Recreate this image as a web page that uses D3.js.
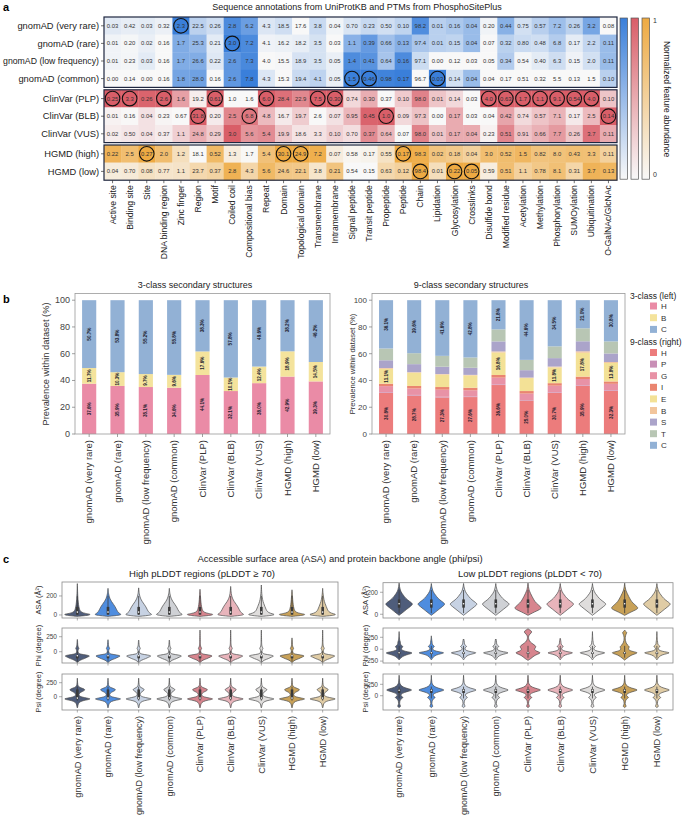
<!DOCTYPE html>
<html><head><meta charset="utf-8">
<script src="https://cdn.jsdelivr.net/npm/d3@7"></script>
<style>body{margin:0;background:#fff;}svg{display:block;}</style>
</head><body>
<script>
// ---------------- DATA ----------------
const datasets = ["gnomAD (very rare)","gnomAD (rare)","gnomAD (low frequency)","gnomAD (common)","ClinVar (PLP)","ClinVar (BLB)","ClinVar (VUS)","HGMD (high)","HGMD (low)"];
const datasetGroup = [0,0,0,0,1,1,1,2,2];
const features = ["Active site","Binding site","Site","DNA binding region","Zinc finger","Region","Motif","Coiled coil","Compositional bias","Repeat","Domain","Topological domain","Transmembrane","Intramembrane","Signal peptide","Transit peptide","Propeptide","Peptide","Chain","Lipidation","Glycosylation","Crosslinks","Disulfide bond","Modified residue","Acetylation","Methylation","Phosphorylation","SUMOylation","Ubiquitination","O-GalNAc/GlcNAc"];
const abundance = [
 [0.03,0.42,0.03,0.32,2.3,22.5,0.26,2.8,6.2,4.3,18.5,17.6,3.8,0.04,0.70,0.23,0.50,0.10,98.2,0.01,0.16,0.04,0.20,0.44,0.75,0.57,7.2,0.26,3.2,0.08],
 [0.01,0.20,0.02,0.16,1.7,25.3,0.21,3.0,7.2,4.1,16.2,18.2,3.5,0.03,1.1,0.39,0.66,0.13,97.4,0.01,0.15,0.04,0.07,0.32,0.80,0.48,6.8,0.17,2.2,0.11],
 [0.01,0.23,0.03,0.16,1.7,26.6,0.22,2.6,7.3,4.0,15.5,18.9,3.5,0.05,1.4,0.41,0.64,0.16,97.1,0.00,0.12,0.03,0.05,0.34,0.54,0.40,6.3,0.15,2.0,0.11],
 [0.00,0.14,0.00,0.16,1.8,28.0,0.16,2.6,7.8,4.3,15.3,19.4,4.1,0.05,1.5,0.46,0.98,0.17,96.7,0.03,0.14,0.04,0.04,0.17,0.51,0.32,5.5,0.13,1.5,0.10],
 [0.25,3.3,0.26,2.6,1.6,19.2,0.61,1.0,1.6,6.0,28.4,22.9,7.5,0.30,0.74,0.30,0.37,0.10,98.0,0.01,0.14,0.03,4.0,0.63,1.7,1.06,9.1,0.54,4.0,0.10],
 [0.01,0.16,0.04,0.23,0.67,31.8,0.20,2.5,6.8,4.8,16.7,19.7,2.6,0.07,0.95,0.45,1.0,0.09,97.3,0.00,0.17,0.03,0.04,0.42,0.74,0.57,7.1,0.17,2.5,0.14],
 [0.02,0.50,0.04,0.37,1.1,24.8,0.29,3.0,5.6,5.4,19.9,18.6,3.3,0.10,0.70,0.37,0.64,0.07,98.0,0.01,0.17,0.04,0.23,0.51,0.91,0.66,7.7,0.26,3.7,0.11],
 [0.22,2.5,0.27,2.0,1.2,18.1,0.52,1.3,1.7,5.4,30.1,24.9,7.2,0.07,0.58,0.17,0.55,0.17,98.3,0.02,0.18,0.04,3.0,0.52,1.5,0.82,8.0,0.43,3.3,0.11],
 [0.04,0.70,0.08,0.77,1.1,23.7,0.37,2.8,4.3,5.6,24.6,22.1,3.8,0.21,0.54,0.15,0.63,0.12,98.4,0.01,0.22,0.05,0.59,0.51,1.1,0.78,8.1,0.31,3.7,0.13]
];
// circled cells [row, column]
const circled = [[0,4],[1,7],[3,14],[3,15],[3,19],
 [4,0],[4,1],[4,3],[4,6],[4,9],[4,12],[4,13],[4,22],[4,23],[4,24],[4,25],[4,26],[4,27],[4,28],
 [5,5],[5,8],[5,16],[5,29],[7,2],[7,10],[7,11],[7,17],[8,18],[8,20],[8,21]];

// panel b
const ss3Keys = ["H","B","C"];
const ss3H = [37.6,35.9,35.1,34.6,44.1,32.1,38.0,42.9,39.3];
const ss3B = [11.7,10.3,9.7,9.6,17.6,10.1,12.4,18.9,14.5];
const ss3C = [50.7,53.8,55.2,55.8,38.3,57.8,49.6,38.2,46.2];
const ss9Keys = ["H","P","G","I","E","B","S","T","C"];
const ss9H = [30.8,28.7,27.3,27.6,36.6,25.0,30.7,35.9,32.3];
const ss9P = [0.5,0.5,0.5,0.5,0.5,0.4,0.5,0.5,0.5];
const ss9G = [4.5,4.8,5.3,4.6,5.0,4.8,4.9,4.7,4.7];
const ss9I = [1.8,1.9,2.0,1.9,2.0,1.9,1.9,1.8,1.8];
const ss9E = [11.1,9.9,9.3,9.2,16.8,9.7,11.8,17.8,13.8];
const ss9B = [0.6,0.4,0.4,0.4,0.8,0.4,0.6,1.1,0.7];
const ss9S = [5.8,6.0,5.5,5.3,7.5,5.5,6.3,7.5,6.4];
const ss9T = [8.8,8.2,8.1,7.7,9.0,7.7,8.8,9.7,9.0];
const ss9C = [36.1,39.6,41.6,42.8,21.8,44.6,34.5,21.0,30.8];
const ss3Colors = ["#ea8ba6","#f4e39c","#92b1d5"];
const ss9Colors = ["#ec7c7c","#c98fb6","#e892a6","#ea8570","#f3e196","#f2c59c","#aba4ca","#b8c6b4","#92b1d5"];

// panel c violin profiles: [value, relative half width]
const violinColors = ["#4f5d7b","#4f8ddf","#c7d2e3","#cfd1d5","#d7858e","#e8b4bb","#dfdddc","#c8a158","#e0cca5"];
const asaHighProfiles = {
 spike: [[-15,0],[-8,0.55],[0,0.95],[8,1.0],[16,0.6],[28,0.32],[45,0.2],[70,0.14],[110,0.09],[160,0.05],[220,0.025]],
 mid:   [[-15,0],[-8,0.55],[0,0.95],[8,1.0],[18,0.65],[35,0.45],[60,0.35],[90,0.27],[120,0.18],[160,0.09],[220,0.03]],
 bell:  [[-15,0],[-8,0.55],[0,0.95],[8,1.0],[18,0.85],[35,0.72],[60,0.64],[85,0.55],[110,0.43],[140,0.27],[175,0.13],[220,0.04]]
};
const asaHighShape = ["spike","bell","bell","bell","spike","bell","mid","spike","mid"];
const asaHighTop = [330,280,285,280,270,300,315,265,280];
const phiHighProfiles = {
 std: [[-185,0],[-170,0.05],[-140,0.2],[-115,0.55],[-90,0.75],[-70,1.0],[-55,0.7],[-40,0.2],[-20,0.06],[20,0.04],[45,0.1],[60,0.14],[75,0.06],[120,0.025],[180,0.02]]
};
const phiHighShape = ["std","std","std","std","std","std","std","std","std"];
const phiHighTop = [205,200,195,195,360,360,360,230,360];
const psiHighProfiles = {
 std: [[-200,0],[-185,0.03],[-150,0.04],[-100,0.12],[-70,0.4],[-50,0.9],[-38,1.0],[-25,0.75],[-5,0.3],[20,0.12],[50,0.1],[80,0.18],[105,0.35],[125,0.45],[145,0.35],[165,0.15],[190,0.05],[240,0.02]],
 big: [[-200,0],[-185,0.03],[-150,0.04],[-100,0.12],[-70,0.4],[-50,0.9],[-38,1.0],[-25,0.75],[-5,0.3],[20,0.12],[50,0.12],[80,0.25],[105,0.5],[125,0.6],[145,0.45],[165,0.18],[190,0.05],[240,0.02]]
};
const psiHighShape = ["big","big","std","std","big","std","std","big","std"];
const psiHighTop = [330,330,330,330,330,330,330,330,330];
const asaLowProfiles = {
 sym:  [[-10,0],[0,0.1],[20,0.3],[45,0.55],[70,0.8],[90,1.0],[105,0.9],[130,0.6],[160,0.38],[190,0.2],[220,0.08],[250,0.03]],
 skew: [[-10,0],[0,0.15],[20,0.45],[40,0.8],[55,1.0],[75,0.85],[100,0.6],[130,0.42],[160,0.3],[190,0.18],[220,0.07],[250,0.03]]
};
const asaLowShape = ["sym","sym","sym","sym","skew","sym","sym","skew","sym"];
const asaLowTop = [285,280,280,280,285,280,280,285,280];
const phiLowProfiles = {
 vr:   [[-225,0],[-200,0.08],[-160,0.2],[-120,0.5],[-95,0.85],[-75,1.0],[-55,0.6],[-30,0.25],[0,0.15],[30,0.2],[55,0.3],[75,0.18],[110,0.08],[150,0.1],[170,0.06],[220,0.02]],
 std:  [[-225,0],[-200,0.06],[-160,0.15],[-120,0.35],[-95,0.7],[-75,1.0],[-55,0.55],[-30,0.2],[0,0.08],[35,0.12],[55,0.25],[75,0.15],[110,0.05],[150,0.06],[170,0.04],[220,0.02]],
 rich: [[-235,0],[-200,0.2],[-160,0.35],[-120,0.55],[-90,0.85],[-70,0.9],[-40,0.6],[-10,0.45],[20,0.5],[55,0.6],[90,0.45],[130,0.25],[170,0.1],[220,0.04],[280,0.03],[320,0.15],[360,0.3],[395,0.2],[420,0.02]],
 hh:   [[-230,0],[-200,0.12],[-160,0.3],[-120,0.5],[-90,0.85],[-70,0.95],[-45,0.5],[-10,0.25],[25,0.3],[55,0.35],[85,0.2],[130,0.1],[180,0.05],[250,0.03],[320,0.1],[350,0.18],[380,0.05]]
};
const phiLowShape = ["vr","std","std","std","rich","std","std","hh","std"];
const phiLowTop = [370,280,200,200,430,230,370,400,370];
const psiLowProfiles = {
 std: [[-260,0],[-245,0.08],[-225,0.12],[-205,0.06],[-170,0.03],[-120,0.05],[-70,0.12],[-45,0.3],[-25,0.25],[0,0.12],[30,0.12],[70,0.35],[100,0.7],[125,1.0],[150,0.7],[185,0.3],[230,0.1],[290,0.03],[370,0.015]]
};
const psiLowShape = ["std","std","std","std","std","std","std","std","std"];
const psiLowTop = [450,450,450,450,450,450,450,450,450];
// inner box: [low whisker, q1, median, q3, high whisker]
const asaHighBox = [0,4,30,85,200];
const phiHighBox = [-170,-110,-68,-60,10];
const psiHighBox = [-70,-45,-25,130,180];
const asaLowBox = [10,60,95,135,220];
const phiLowBox = [-180,-100,-75,-60,70];
const psiLowBox = [-60,60,120,145,200];

// ---------------- DRAW ----------------
const FONT = "'Liberation Sans', Arial, Helvetica, sans-serif";
const svg = d3.select("body").append("svg").attr("width",685).attr("height",817)
  .style("font-family",FONT);
const defs = svg.append("defs");
function fitText(sel, maxW){
  const n = sel.node(); const w = n.getComputedTextLength();
  if(w>maxW){ const fs = parseFloat(sel.attr("font-size")); sel.attr("font-size", (fs*maxW/w).toFixed(2)); }
}

// ===== Panel a =====
svg.append("text").attr("x",3).attr("y",11).text("a").attr("font-weight","bold").attr("font-size",11);
svg.append("text").attr("x",357).attr("y",10).attr("text-anchor","middle").attr("font-size",9).attr("fill","#222")
  .text("Sequence annotations from UniProtKB and PTMs from PhosphoSitePlus");

const hmLeft=104, hmRight=617, hmTop=17, rowH=17.6, grpGap=2.4;
const xH = d3.scaleBand().domain(features).range([hmLeft,hmRight]);
const yBand = d3.scaleBand().domain(d3.range(9)).range([hmTop,hmTop+9*rowH]);
const yH = i => yBand(i) + datasetGroup[i]*grpGap;
const groupColors = ["#3a7fda","#d95e68","#eeaa42"];
const lowColor = "#f8f8f8";
const colMin = features.map((f,j)=>d3.min(abundance,r=>r[j]));
const colMax = features.map((f,j)=>d3.max(abundance,r=>r[j]));
const fmt = v => v<1 ? v.toFixed(2) : v.toFixed(1);

const gH = svg.append("g");
abundance.forEach((row,i)=>{
  const interp = d3.interpolateRgb(lowColor, groupColors[datasetGroup[i]]);
  row.forEach((v,j)=>{
    const t = colMax[j]>colMin[j] ? (v-colMin[j])/(colMax[j]-colMin[j]) : 0;
    gH.append("rect").attr("x",xH(features[j])).attr("y",yH(i))
      .attr("width",xH.bandwidth()+0.3).attr("height",rowH+0.3).attr("fill",interp(t));
  });
});
abundance.forEach((row,i)=>{
  row.forEach((v,j)=>{
    gH.append("text").attr("x",xH(features[j])+xH.bandwidth()/2).attr("y",yH(i)+rowH/2+2)
      .attr("text-anchor","middle").attr("font-size",5.9).attr("fill","#333").text(fmt(v));
  });
});
circled.forEach(([i,j])=>{
  gH.append("circle").attr("cx",xH(features[j])+xH.bandwidth()/2).attr("cy",yH(i)+rowH/2)
    .attr("r",7.3).attr("fill","none").attr("stroke","#111").attr("stroke-width",1.1);
});
[0,1,2].forEach(g=>{
  const rows = d3.range(9).filter(i=>datasetGroup[i]===g);
  const y0 = yH(rows[0]), y1 = yH(rows[rows.length-1])+rowH;
  gH.append("rect").attr("x",hmLeft).attr("y",y0).attr("width",hmRight-hmLeft).attr("height",y1-y0)
    .attr("fill","none").attr("stroke","#1e2740").attr("stroke-width",1.2);
});
datasets.forEach((d,i)=>{
  const cy = yH(i)+rowH/2;
  gH.append("line").attr("x1",hmLeft-3).attr("x2",hmLeft).attr("y1",cy).attr("y2",cy).attr("stroke","#333").attr("stroke-width",0.7);
  const t = gH.append("text").attr("x",hmLeft-5).attr("y",cy+3.2).attr("text-anchor","end").attr("font-size",9.3).attr("fill","#222").text(d);
  fitText(t, hmLeft-8);
});
const hmBottom = yH(8)+rowH;
features.forEach(f=>{
  const cx = xH(f)+xH.bandwidth()/2;
  gH.append("line").attr("x1",cx).attr("x2",cx).attr("y1",hmBottom).attr("y2",hmBottom+3).attr("stroke","#333").attr("stroke-width",0.7);
  gH.append("text").attr("transform",`translate(${cx+3},${hmBottom+5}) rotate(-90)`)
    .attr("text-anchor","end").attr("font-size",8.6).attr("fill","#222").text(f);
});
// colour bars legend
const lgX = [620,631,642];
groupColors.forEach((c,k)=>{
  const id="lg"+k;
  const grad = defs.append("linearGradient").attr("id",id).attr("x1",0).attr("x2",0).attr("y1",0).attr("y2",1);
  grad.append("stop").attr("offset","0%").attr("stop-color",c);
  grad.append("stop").attr("offset","100%").attr("stop-color",lowColor);
  svg.append("rect").attr("x",lgX[k]).attr("y",hmTop+1).attr("width",7.5).attr("height",hmBottom-hmTop-2)
    .attr("fill",`url(#${id})`).attr("stroke","#555").attr("stroke-width",0.7);
});
svg.append("text").attr("x",653).attr("y",23).attr("font-size",7).attr("fill","#333").text("1");
svg.append("text").attr("x",653).attr("y",177).attr("font-size",7).attr("fill","#333").text("0");
svg.append("text").attr("transform","translate(664,99) rotate(90)").attr("text-anchor","middle")
  .attr("font-size",8.5).attr("fill","#222").text("Normalized feature abundance");

// ===== Panel b =====
svg.append("text").attr("x",3).attr("y",303).text("b").attr("font-weight","bold").attr("font-size",11);
function barPanel(x0,x1,keys,series,colors,title,titleX,labelFont,labelMin){
  const yTop=293.5, yBot=434;
  const g = svg.append("g");
  const xB = d3.scaleBand().domain(datasets).range([x0,x1]).paddingInner(0.5).paddingOuter(0.25);
  const yB = d3.scaleLinear().domain([0,105]).range([yBot,yTop]);
  const rows = datasets.map((d,i)=>{const o={name:d}; keys.forEach((k,m)=>o[k]=series[m][i]); return o;});
  const stack = d3.stack().keys(keys)(rows);
  stack.forEach((layer,m)=>{
    layer.forEach(seg=>{
      g.append("rect").attr("x",xB(seg.data.name)).attr("y",yB(seg[1])).attr("width",xB.bandwidth())
        .attr("height",Math.max(0,yB(seg[0])-yB(seg[1]))).attr("fill",colors[m]);
    });
  });
  stack.forEach((layer,m)=>{
    layer.forEach(seg=>{
      const v = seg[1]-seg[0];
      if(v>=labelMin){
        const cx = xB(seg.data.name)+xB.bandwidth()/2, cy=(yB(seg[0])+yB(seg[1]))/2;
        g.append("text").attr("transform",`translate(${cx+1.6},${cy}) rotate(-90)`).attr("text-anchor","middle")
          .attr("font-size",4.6).attr("font-weight","bold").attr("fill","#1c1c2e").text(v.toFixed(1)+"%");
      }
    });
  });
  g.append("rect").attr("x",x0).attr("y",yTop).attr("width",x1-x0).attr("height",yBot-yTop)
    .attr("fill","none").attr("stroke","#999").attr("stroke-width",0.8);
  [0,20,40,60,80,100].forEach(t=>{
    g.append("line").attr("x1",x0-3).attr("x2",x0).attr("y1",yB(t)).attr("y2",yB(t)).attr("stroke","#777").attr("stroke-width",0.7);
    g.append("text").attr("x",x0-5).attr("y",yB(t)+3).attr("text-anchor","end").attr("font-size",labelFont).attr("fill","#444").text(t);
  });
  datasets.forEach(d=>{
    const cx = xB(d)+xB.bandwidth()/2;
    g.append("line").attr("x1",cx).attr("x2",cx).attr("y1",yBot).attr("y2",yBot+3).attr("stroke","#777").attr("stroke-width",0.7);
    g.append("text").attr("transform",`translate(${cx+3.3},${yBot+6}) rotate(-90)`).attr("text-anchor","end")
      .attr("font-size",9.5).attr("fill","#333").text(d);
  });
  g.append("text").attr("x",titleX).attr("y",288).attr("text-anchor","middle").attr("font-size",9).attr("fill","#222").text(title);
  return g;
}
barPanel(75,330,ss3Keys,[ss3H,ss3B,ss3C],ss3Colors,"3-class secondary structures",195,9,0);
barPanel(372,625,ss9Keys,[ss9H,ss9P,ss9G,ss9I,ss9E,ss9B,ss9S,ss9T,ss9C],ss9Colors,"9-class secondary structures",471,8,10.5);
svg.append("text").attr("transform","translate(49,364) rotate(-90)").attr("text-anchor","middle").attr("font-size",9.3).attr("fill","#333").text("Prevalence within dataset (%)");
svg.append("text").attr("transform","translate(355,364) rotate(-90)").attr("text-anchor","middle").attr("font-size",7.6).attr("fill","#333").text("Prevalence within dataset (%)");
// legend b
svg.append("text").attr("x",630).attr("y",299).attr("font-size",8.5).attr("fill","#222").text("3-class (left)");
ss3Keys.forEach((k,m)=>{
  const y = 306+m*11.7;
  svg.append("rect").attr("x",650).attr("y",y-3.5).attr("width",7).attr("height",7).attr("fill",ss3Colors[m]);
  svg.append("text").attr("x",661).attr("y",y+3).attr("font-size",8).attr("fill","#333").text(k);
});
svg.append("text").attr("x",630).attr("y",345).attr("font-size",8.5).attr("fill","#222").text("9-class (right)");
ss9Keys.forEach((k,m)=>{
  const y = 352.5+m*11.6;
  svg.append("rect").attr("x",650).attr("y",y-3.5).attr("width",7).attr("height",7).attr("fill",ss9Colors[m]);
  svg.append("text").attr("x",661).attr("y",y+3).attr("font-size",8).attr("fill","#333").text(k);
});

// ===== Panel c =====
svg.append("text").attr("x",3).attr("y",563).text("c").attr("font-weight","bold").attr("font-size",11);
svg.append("text").attr("x",340).attr("y",562).attr("text-anchor","middle").attr("font-size",9.5).attr("fill","#222")
  .text("Accessible surface area (ASA) and protein backbone angle (phi/psi)");
svg.append("text").attr("x",202).attr("y",577).attr("text-anchor","middle").attr("font-size",9.5).attr("fill","#222")
  .text("High pLDDT regions (pLDDT \u2265 70)");
svg.append("text").attr("x",530).attr("y",577).attr("text-anchor","middle").attr("font-size",9.5).attr("fill","#222")
  .text("Low pLDDT regions (pLDDT < 70)");

let clipN=0;
function violinPanel(x0,x1,y0,y1,domain,ticks,profiles,shapes,tops,box,ylabel,ylabelX,showX){
  const g = svg.append("g");
  const xs = d3.scaleBand().domain(datasets).range([x0,x1]);
  const ys = d3.scaleLinear().domain(domain).range([y1,y0]);
  const half = xs.bandwidth()*0.43;
  const cid = "clip"+(clipN++);
  defs.append("clipPath").attr("id",cid).append("rect").attr("x",x0).attr("y",y0).attr("width",x1-x0).attr("height",y1-y0);
  const gv = g.append("g").attr("clip-path",`url(#${cid})`);
  const area = d3.area().curve(d3.curveBasis).y(d=>ys(d[0])).x0(d=>-d[1]*half).x1(d=>d[1]*half);
  datasets.forEach((d,i)=>{
    const cx = xs(d)+xs.bandwidth()/2;
    const prof = profiles[shapes[i]].concat([[tops[i],0]]);
    const vg = gv.append("g").attr("transform",`translate(${cx},0)`);
    vg.append("path").datum(prof).attr("d",area).attr("fill",violinColors[i]).attr("stroke","#4a4a4a").attr("stroke-width",0.7);
    vg.append("line").attr("x1",0).attr("x2",0).attr("y1",ys(box[0])).attr("y2",ys(box[4])).attr("stroke","#3a3a3a").attr("stroke-width",0.8);
    vg.append("rect").attr("x",-1.3).attr("y",ys(box[3])).attr("width",2.6).attr("height",ys(box[1])-ys(box[3])).attr("fill","#3a3a3a");
    vg.append("circle").attr("cx",0).attr("cy",ys(box[2])).attr("r",0.8).attr("fill","#fff");
  });
  g.append("rect").attr("x",x0).attr("y",y0).attr("width",x1-x0).attr("height",y1-y0)
    .attr("fill","none").attr("stroke","#8a8a8a").attr("stroke-width",0.8);
  ticks.forEach(t=>{
    g.append("line").attr("x1",x0-3).attr("x2",x0).attr("y1",ys(t)).attr("y2",ys(t)).attr("stroke","#777").attr("stroke-width",0.6);
    g.append("text").attr("x",x0-5).attr("y",ys(t)+2.3).attr("text-anchor","end").attr("font-size",6.5).attr("fill","#444").text(t);
  });
  datasets.forEach(d=>{
    const cx = xs(d)+xs.bandwidth()/2;
    g.append("line").attr("x1",cx).attr("x2",cx).attr("y1",y1).attr("y2",y1+2.5).attr("stroke","#777").attr("stroke-width",0.6);
    if(showX){
      const t = g.append("text").attr("transform",`translate(${cx+3.3},${y1+6}) rotate(-90)`).attr("text-anchor","end")
        .attr("font-size",9.3).attr("fill","#333").text(d);
      fitText(t, 817-(y1+6)-2);
    }
  });
  g.append("text").attr("transform",`translate(${ylabelX},${(y0+y1)/2}) rotate(-90)`).attr("text-anchor","middle")
    .attr("font-size",7.5).attr("fill","#333").text(ylabel);
}
// left (high pLDDT)
violinPanel(62,338,582,618,[-32,347],[0,200],asaHighProfiles,asaHighShape,asaHighTop,asaHighBox,"ASA (\u00c5\u00b2)",41,false);
violinPanel(62,338,628,663,[-188,395],[0,250],phiHighProfiles,phiHighShape,phiHighTop,phiHighBox,"Phi (degree)",41,false);
violinPanel(62,338,674,710,[-237,405],[0,250],psiHighProfiles,psiHighShape,psiHighTop,psiHighBox,"Psi (degree)",41,true);
// right (low pLDDT)
violinPanel(383,673,582.7,618,[-34,287],[0,200],asaLowProfiles,asaLowShape,asaLowTop,asaLowBox,"ASA (\u00c5\u00b2)",368,false);
violinPanel(383,673,628,663,[-290,445],[-250,0,250],phiLowProfiles,phiLowShape,phiLowTop,phiLowBox,"Phi (degree)",368,false);
violinPanel(383,673,674,710,[-313,476],[0,250],psiLowProfiles,psiLowShape,psiLowTop,psiLowBox,"Psi (degree)",368,true);
</script>
</body></html>
